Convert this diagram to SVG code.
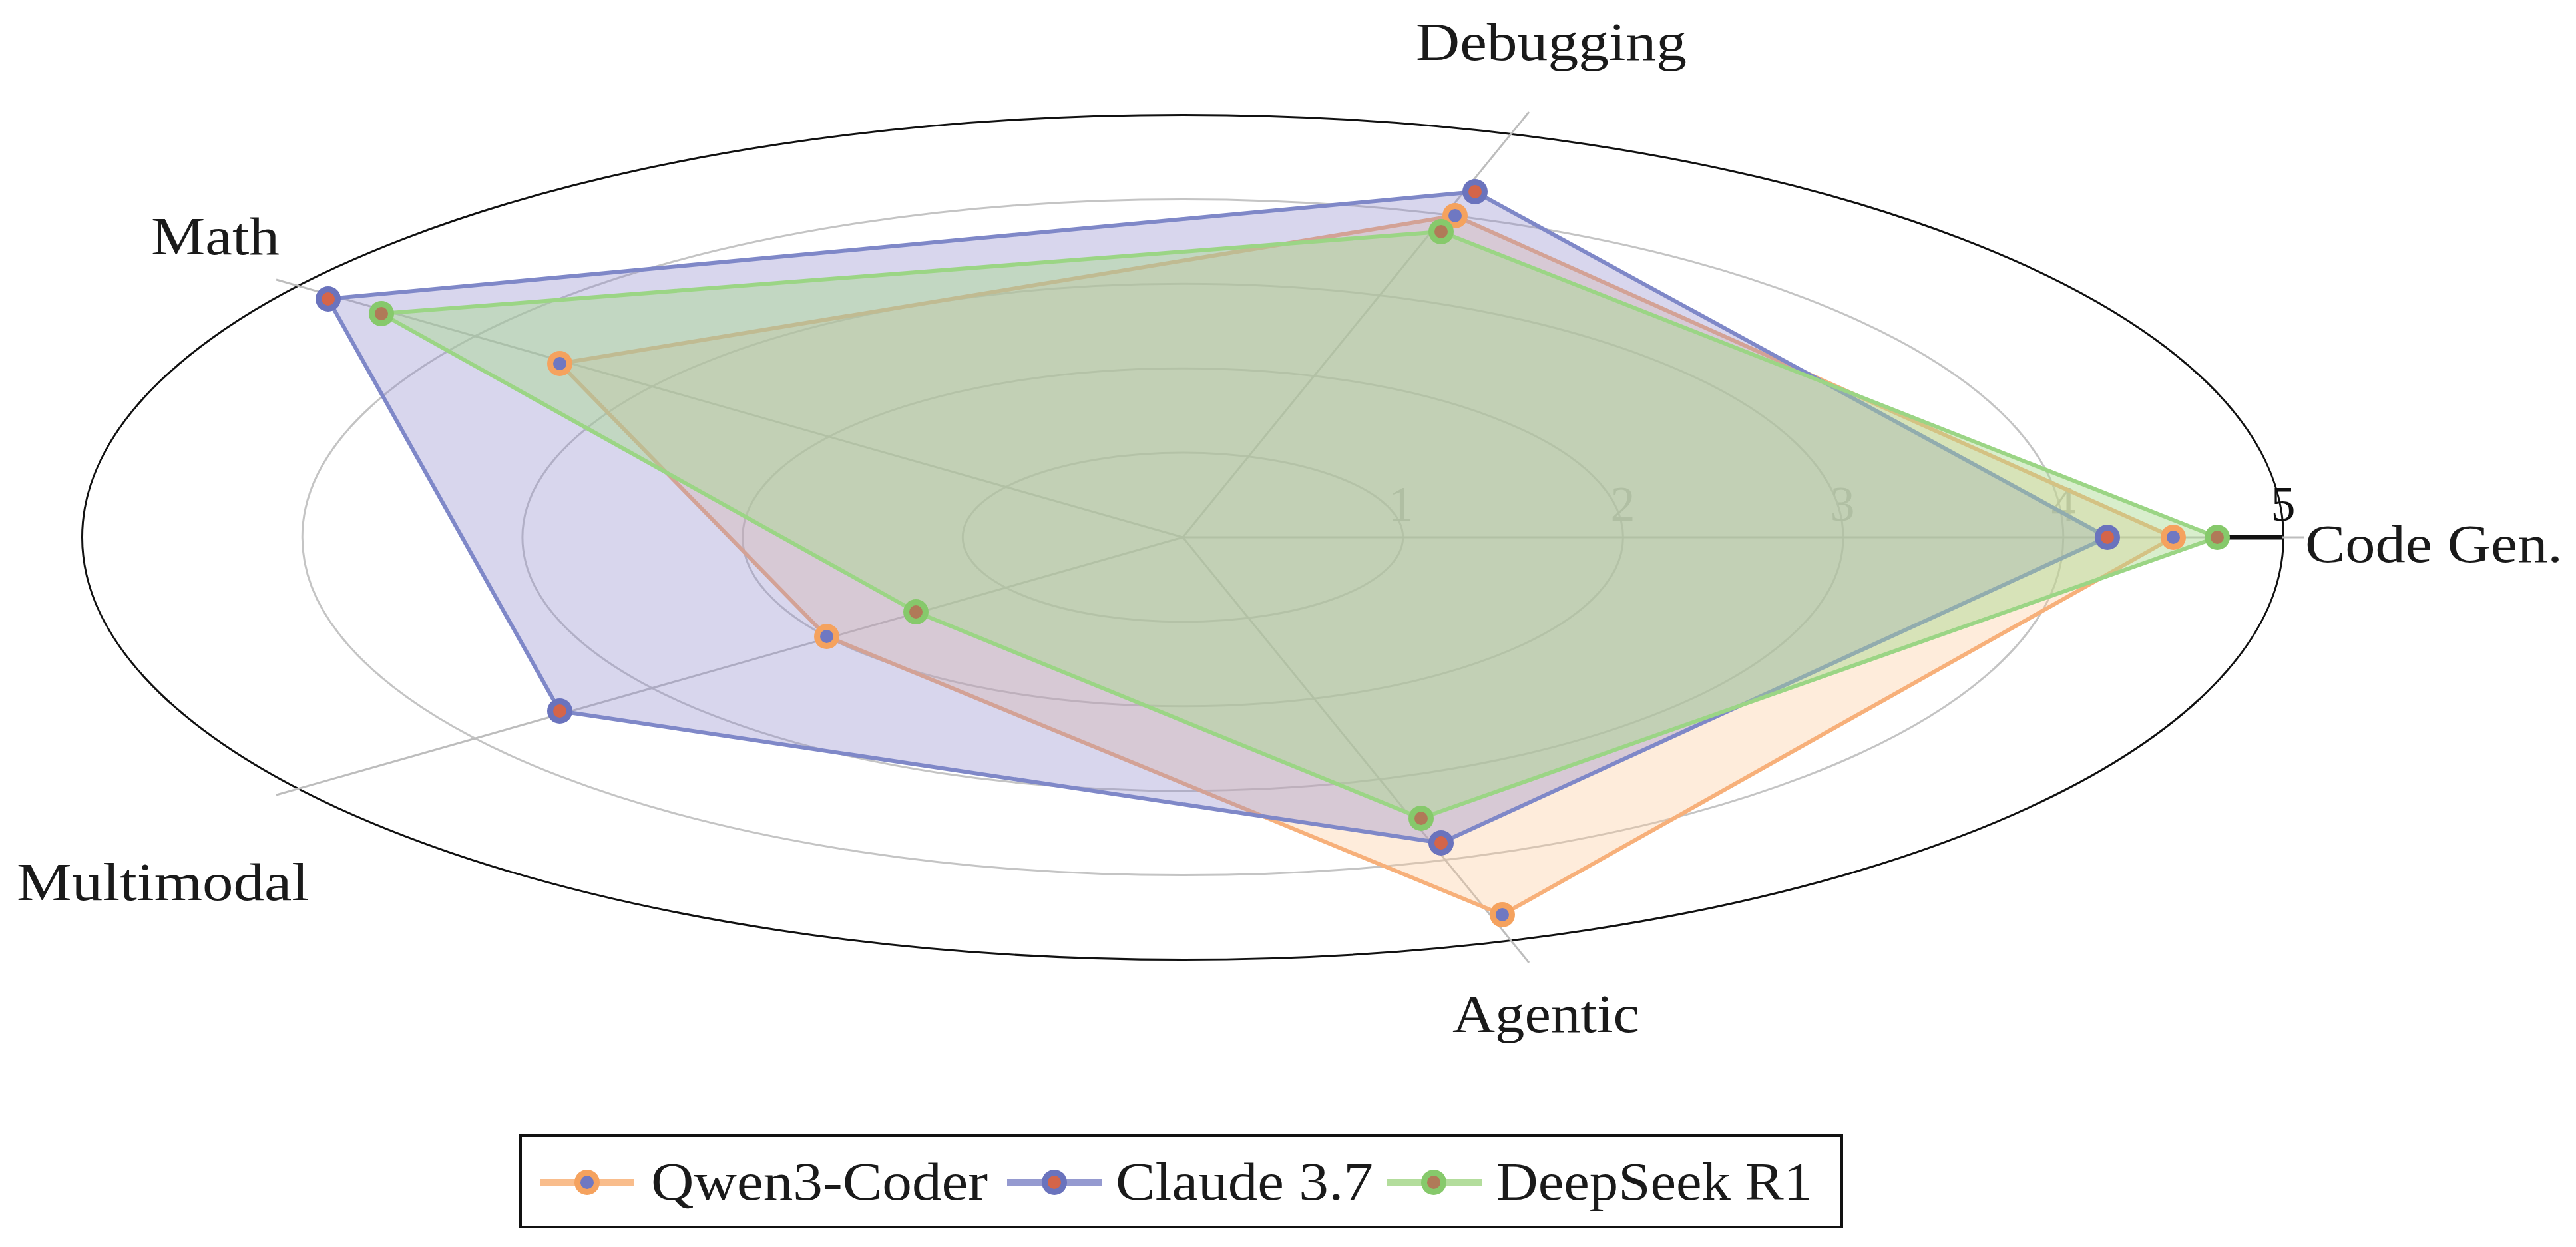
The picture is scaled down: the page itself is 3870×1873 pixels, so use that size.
<svg xmlns="http://www.w3.org/2000/svg" width="3870" height="1873" viewBox="0 0 3870 1873">
<style>
.ring{fill:none;stroke:#c4c4c4;stroke-width:3}
.spoke{stroke:#bdbdbd;stroke-width:3}
.tick{font-family:"Liberation Serif",serif;font-size:74px;fill:#b4b4b4;text-anchor:middle}
.lab{font-family:"Liberation Serif",serif;font-size:80px;fill:#1a1a1a}
.q{fill:#fbc898;fill-opacity:0.35;stroke:#f7b07a;stroke-width:6;stroke-linejoin:round}
.c{fill:#8f8acc;fill-opacity:0.35;stroke:#7f88c8;stroke-width:6;stroke-linejoin:round}
.d{fill:#a9da8f;fill-opacity:0.45;stroke:#9bd585;stroke-width:6;stroke-linejoin:round}
.mq{fill:#f5a25e}.mc{fill:#6a73bd}.md{fill:#86c96b}
.iq{fill:#6f78c2}.ic{fill:#d4654a}.id{fill:#b07a58}
</style>
<rect width="3870" height="1873" fill="#fff"/>
<g id="grid">
<ellipse class="ring" cx="1777" cy="807" rx="330.7" ry="126.9"/>
<ellipse class="ring" cx="1777" cy="807" rx="661.4" ry="253.8"/>
<ellipse class="ring" cx="1777" cy="807" rx="992.1" ry="380.7"/>
<ellipse class="ring" cx="1777" cy="807" rx="1322.8" ry="507.6"/>
<ellipse cx="1777" cy="807" rx="1653.5" ry="634.5" fill="none" stroke="#111" stroke-width="3"/>
<line class="spoke" x1="1777" y1="807" x2="3462" y2="807"/>
<line class="spoke" x1="1777" y1="807" x2="2297" y2="168"/>
<line class="spoke" x1="1777" y1="807" x2="415" y2="420"/>
<line class="spoke" x1="1777" y1="807" x2="415" y2="1194"/>
<line class="spoke" x1="1777" y1="807" x2="2297" y2="1446"/>
<line x1="3330" y1="807" x2="3428" y2="807" stroke="#111" stroke-width="7"/>
<text class="tick" x="2105" y="782">1</text>
<text class="tick" x="2438" y="782">2</text>
<text class="tick" x="2768" y="782">3</text>
<text class="tick" x="3100" y="782">4</text>
<text class="tick" x="3430" y="782" style="fill:#111">5</text>
</g>
<g id="labels">
<text class="lab" x="3463" y="844" textLength="387" lengthAdjust="spacingAndGlyphs">Code Gen.</text>
<text class="lab" x="2127" y="90" textLength="407" lengthAdjust="spacingAndGlyphs">Debugging</text>
<text class="lab" x="227" y="382" textLength="193" lengthAdjust="spacingAndGlyphs">Math</text>
<text class="lab" x="25" y="1352" textLength="439" lengthAdjust="spacingAndGlyphs">Multimodal</text>
<text class="lab" x="2182" y="1550" textLength="281" lengthAdjust="spacingAndGlyphs">Agentic</text>
</g>
<g id="series">
<polygon class="q" points="3265,807 2186,324 841,546 1242,956 2257,1374"/>
<polygon class="c" points="3166,807 2216,288 493,449 841,1068 2165,1266"/>
<polygon class="d" points="3331,807 2165,348 573,471 1376,919 2135,1229"/>
</g>
<g id="markers">
<g><circle class="mq" cx="3265" cy="807" r="19"/><circle class="iq" cx="3265" cy="807" r="10"/>
<circle class="mq" cx="2186" cy="324" r="19"/><circle class="iq" cx="2186" cy="324" r="10"/>
<circle class="mq" cx="841" cy="546" r="19"/><circle class="iq" cx="841" cy="546" r="10"/>
<circle class="mq" cx="1242" cy="956" r="19"/><circle class="iq" cx="1242" cy="956" r="10"/>
<circle class="mq" cx="2257" cy="1374" r="19"/><circle class="iq" cx="2257" cy="1374" r="10"/></g>
<g><circle class="mc" cx="3166" cy="807" r="19"/><circle class="ic" cx="3166" cy="807" r="10"/>
<circle class="mc" cx="2216" cy="288" r="19"/><circle class="ic" cx="2216" cy="288" r="10"/>
<circle class="mc" cx="493" cy="449" r="19"/><circle class="ic" cx="493" cy="449" r="10"/>
<circle class="mc" cx="841" cy="1068" r="19"/><circle class="ic" cx="841" cy="1068" r="10"/>
<circle class="mc" cx="2165" cy="1266" r="19"/><circle class="ic" cx="2165" cy="1266" r="10"/></g>
<g><circle class="md" cx="3331" cy="807" r="19"/><circle class="id" cx="3331" cy="807" r="10"/>
<circle class="md" cx="2165" cy="348" r="19"/><circle class="id" cx="2165" cy="348" r="10"/>
<circle class="md" cx="573" cy="471" r="19"/><circle class="id" cx="573" cy="471" r="10"/>
<circle class="md" cx="1376" cy="919" r="19"/><circle class="id" cx="1376" cy="919" r="10"/>
<circle class="md" cx="2135" cy="1229" r="19"/><circle class="id" cx="2135" cy="1229" r="10"/></g>
</g>
<g id="legend">
<rect x="782" y="1706" width="1985" height="137" fill="#fff" stroke="#111" stroke-width="4"/>
<line x1="812" y1="1776" x2="953" y2="1776" stroke="#f9bd8c" stroke-width="10"/>
<circle class="mq" cx="882" cy="1776" r="19"/><circle class="iq" cx="882" cy="1776" r="10"/>
<text class="lab" x="978" y="1802" textLength="506" lengthAdjust="spacingAndGlyphs">Qwen3-Coder</text>
<line x1="1513" y1="1776" x2="1656" y2="1776" stroke="#959ad0" stroke-width="10"/>
<circle class="mc" cx="1584" cy="1776" r="19"/><circle class="ic" cx="1584" cy="1776" r="10"/>
<text class="lab" x="1676" y="1802" textLength="387" lengthAdjust="spacingAndGlyphs">Claude 3.7</text>
<line x1="2084" y1="1776" x2="2226" y2="1776" stroke="#b3dd9c" stroke-width="10"/>
<circle class="md" cx="2154" cy="1776" r="19"/><circle class="id" cx="2154" cy="1776" r="10"/>
<text class="lab" x="2248" y="1802" textLength="475" lengthAdjust="spacingAndGlyphs">DeepSeek R1</text>
</g>
</svg>
